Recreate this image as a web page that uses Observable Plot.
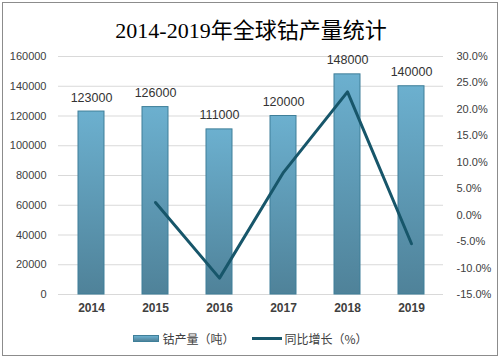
<!DOCTYPE html>
<html>
<head>
<meta charset="utf-8">
<script src="https://cdn.jsdelivr.net/npm/d3@7"></script>
<script src="https://cdn.jsdelivr.net/npm/@observablehq/plot@0.6"></script>
<style>
  html, body { margin: 0; padding: 0; background: #fff; }
  #wrap { position: relative; width: 501px; height: 361px; overflow: hidden; background: #fff; }
  #border { position: absolute; left: 2px; top: 2px; width: 494px; height: 352px; border: 1px solid #8c8c8c; pointer-events: none; }
  #legend { position: absolute; left: 0; top: 328px; width: 501px; height: 20px; display: flex; justify-content: center; align-items: center;
    font-family: "Noto Sans CJK SC", "Liberation Sans", sans-serif; font-size: 12px; color: #404040; }
  .sw-bar { width: 26px; height: 7px; background: linear-gradient(#6cb0cf, #4f8299); border: 1px solid #3f7f99; box-sizing: border-box; margin-right: 3px; }
  .sw-line { width: 30px; height: 3px; background: #17566a; margin-right: 2px; }
  .item { display: flex; align-items: center; }
</style>
</head>
<body>
<div id="wrap">
  <div id="chart"></div>
  <div id="legend">
    <div class="item" style="margin-right:18px"><div class="sw-bar"></div><span>钴产量（吨）</span></div>
    <div class="item"><div class="sw-line"></div><span>同比增长（%）</span></div>
  </div>
  <div id="border"></div>
</div>
<script>
const title = "2014-2019年全球钴产量统计";
const years = ["2014", "2015", "2016", "2017", "2018", "2019"];
const output = [123000, 126000, 111000, 120000, 148000, 140000];
const growthYears = ["2015", "2016", "2017", "2018", "2019"];
const growth = [2.4, -11.9, 8.1, 23.3, -5.4];
const leftTicks = [0, 20000, 40000, 60000, 80000, 100000, 120000, 140000, 160000];
const rightTicks = [-15, -10, -5, 0, 5, 10, 15, 20, 25, 30];

const leftMax = 160000, pctMin = -15, pctMax = 30;
const toY = p => (p - pctMin) / (pctMax - pctMin) * leftMax;
const fromY = v => pctMin + v / leftMax * (pctMax - pctMin);

const bars = years.map((y, i) => ({year: y, output: output[i]}));
const line = growthYears.map((y, i) => ({year: y, pct: growth[i]}));

const latin = "'Liberation Sans', Arial, 'Noto Sans CJK SC', sans-serif";

const chart = Plot.plot({
  width: 501,
  height: 325,
  marginLeft: 58,
  marginRight: 58,
  marginTop: 56,
  marginBottom: 31,
  style: {fontFamily: latin, color: "#404040", background: "transparent"},
  x: {domain: years, paddingInner: 0.6, paddingOuter: 0.3, label: null},
  y: {domain: [0, leftMax], label: null},
  marks: [
    Plot.gridY(leftTicks, {stroke: "#d9d9d9", strokeOpacity: 1}),
    Plot.axisY(leftTicks, {anchor: "left", tickSize: 0, tickPadding: 12, fontSize: 11, tickFormat: d3.format("d"), label: null}),
    Plot.axisY(rightTicks.map(toY), {anchor: "right", tickSize: 0, tickPadding: 13, fontSize: 11,
      tickFormat: v => (Math.round(fromY(v) * 10) / 10).toFixed(1) + "%", label: null}),
    Plot.axisX({tickSize: 0, tickPadding: 9, fontSize: 12, fontWeight: "bold", label: null}),
    Plot.barY(bars, {x: "year", y: "output", fill: "url(#barGrad)", stroke: "#3f7f99", strokeWidth: 1}),
    Plot.text(bars, {x: "year", y: "output", text: d => String(d.output), dy: -14, fontSize: 12.5, fill: "#333"}),
    Plot.line(line, {x: "year", y: d => toY(d.pct), stroke: "#17566a", strokeWidth: 3}),
    Plot.text([title], {frameAnchor: "top", dy: -34, fontSize: 22, fill: "#000",
      fontFamily: "'Liberation Serif', 'Times New Roman', 'Noto Sans CJK SC', serif"})
  ]
});

d3.select(chart).insert("defs", ":first-child").html(
  '<linearGradient id="barGrad" x1="0" y1="0" x2="0" y2="1">' +
  '<stop offset="0" stop-color="#6cb0cf"/><stop offset="1" stop-color="#4f8299"/></linearGradient>'
);

document.getElementById("chart").appendChild(chart);
</script>
</body>
</html>
